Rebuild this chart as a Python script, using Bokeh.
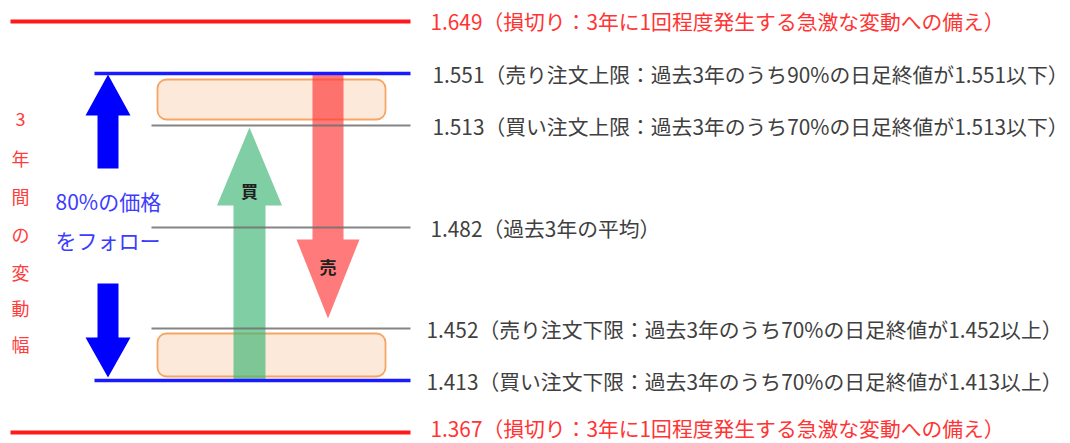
from bokeh.plotting import figure
from bokeh.models import Range1d, BoxAnnotation, ColumnDataSource
from bokeh.core.properties import value
from bokeh.embed import file_html
from bokeh.resources import INLINE

# ---- data ----
levels = [1.649, 1.551, 1.513, 1.482, 1.452, 1.413, 1.367]
notes = [
    "損切り：3年に1回程度発生する急激な変動への備え",
    "売り注文上限：過去3年のうち90%の日足終値が1.551以下",
    "買い注文上限：過去3年のうち70%の日足終値が1.513以下",
    "過去3年の平均",
    "売り注文下限：過去3年のうち70%の日足終値が1.452以上",
    "買い注文下限：過去3年のうち70%の日足終値が1.413以上",
    "損切り：3年に1回程度発生する急激な変動への備え",
]
kinds = ["stop", "outer", "inner", "mean", "inner", "outer", "stop"]
side_label = list("3年間の変動幅")
follow_label = ["80%の価格", "をフォロー"]
buy_label = "買"
sell_label = "売"

# ---- layout (schematic positions, pixels) ----
level_y = [21, 73, 125, 227, 328, 380, 432]
label_y = [20, 73, 125, 227, 328, 380, 427]
line_x0 = {"stop": 10, "outer": 94, "inner": 151, "mean": 151}
line_x1 = 410
line_style = {"stop": ("#ff1a1a", 4, 1.0), "outer": ("#1a1aff", 3.5, 1.0),
              "inner": ("#707070", 2, 0.85), "mean": ("#707070", 2, 0.85)}
text_color = {"stop": "#ff3434", "outer": "#404040", "inner": "#404040", "mean": "#404040"}
text_x = [430, 432, 432, 430, 426, 426, 430]

FONT = value("Noto Sans CJK JP")

p = figure(width=1070, height=443, output_backend="svg", toolbar_location=None,
           x_range=Range1d(0, 1070), y_range=Range1d(443, 0),
           min_border=0, outline_line_color=None, background_fill_color="white")
p.axis.visible = False
p.grid.visible = False

# rounded boxes (under glyphs)
for top, bot in [(79, 119), (333, 376)]:
    p.add_layout(BoxAnnotation(left=157, right=385, top=top, bottom=bot,
                               fill_color="#fde9da", fill_alpha=1.0,
                               line_color="#f5a665", line_width=1.8, line_alpha=1.0,
                               border_radius=9, level="underlay"))


def arrow(xc, y_tail, y_tip, shaft_w, head_w, head_len):
    d = 1 if y_tip > y_tail else -1
    yb = y_tip - d * head_len
    xs = [xc - shaft_w / 2, xc - shaft_w / 2, xc - head_w / 2, xc,
          xc + head_w / 2, xc + shaft_w / 2, xc + shaft_w / 2]
    ys = [y_tail, yb, yb, y_tip, yb, yb, y_tail]
    return xs, ys


arrows = [
    (arrow(249, 380, 127, 32, 65, 78), "#3cb371", 0.65),
    (arrow(327.5, 73, 318, 31, 63, 79), "#ff3333", 0.65),
    (arrow(107.5, 168, 74, 21, 45, 41), "#0000ff", 1.0),
    (arrow(107.5, 283, 377, 21, 45, 40), "#0000ff", 1.0),
]
for (xs, ys), col, a in arrows:
    p.patch(xs, ys, fill_color=col, fill_alpha=a, line_color=None)

# level lines, gray first
order = sorted(range(len(levels)), key=lambda i: 0 if kinds[i] in ("inner", "mean") else 1)
for i in order:
    col, w, a = line_style[kinds[i]]
    p.line([line_x0[kinds[i]], line_x1], [level_y[i], level_y[i]],
           line_color=col, line_width=w, line_alpha=a)

# level labels
labels = [f"{lv:.3f}（{nt}）" for lv, nt in zip(levels, notes)]
src = ColumnDataSource(dict(x=text_x, y=label_y, t=labels,
                            c=[text_color[k] for k in kinds]))
p.text("x", "y", text="t", source=src, text_color="c", text_font=FONT,
       text_font_size="20.8px", text_baseline="middle", text_align="left")

# vertical side label
side_y = [118, 157, 195, 233, 271, 307, 343]
p.text([20] * len(side_label), side_y, text=side_label, text_color="#ff3b3b",
       text_font=FONT, text_font_size="18px", text_baseline="middle", text_align="center")

# follow label
p.text([55, 55], [200, 239], text=follow_label, text_color="#3c3cff",
       text_font=FONT, text_font_size="21px", text_baseline="middle", text_align="left")

# buy / sell marks
p.text([249, 327.5], [190, 266], text=[buy_label, sell_label], text_color="#202020",
       text_font=FONT, text_font_size="17px", text_font_style="bold",
       text_baseline="middle", text_align="center")

open("out.html", "w").write(file_html(p, INLINE))
